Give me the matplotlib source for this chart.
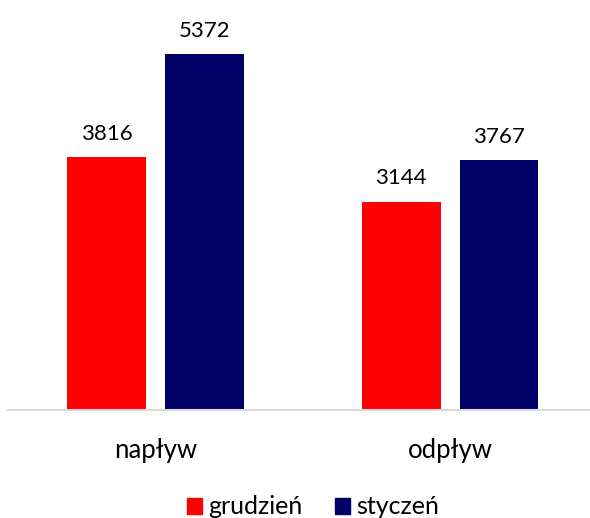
import numpy as np
import matplotlib.pyplot as plt
from matplotlib.patches import Patch

# data
categories = ['napływ', 'odpływ']
series_names = ['grudzień', 'styczeń']
grudzien = [3816, 3144]
styczen = [5372, 3767]

colors = ['#FF0000', '#000066']

plt.rcParams['font.family'] = ['Lato', 'DejaVu Sans']

fig = plt.figure(figsize=(5.9, 5.18), dpi=100)
ax = fig.add_axes([8 / 590, 1 - 410 / 518, 582 / 590, 410 / 518])

x = np.arange(len(categories))
width = 0.268
offset = 0.166

for vals, off, col in [(grudzien, -offset, colors[0]), (styczen, offset, colors[1])]:
    bars = ax.bar(x + off, vals, width, color=col)
    for b, v in zip(bars, vals):
        ax.text(b.get_x() + b.get_width() / 2, v + 200, str(v),
                ha='center', va='bottom', fontsize=16, color='#000000')

ax.set_xlim(-0.501, 1.475)
ax.set_ylim(0, 6184)

for s in ['top', 'right', 'left']:
    ax.spines[s].set_visible(False)
ax.spines['bottom'].set_color('#D9D9D9')
ax.spines['bottom'].set_linewidth(1.5)
ax.set_yticks([])
ax.set_xticks(x)
ax.set_xticklabels(categories, fontsize=18.5)
ax.tick_params(axis='x', length=0, pad=20)

handles = [Patch(color=c) for c in colors]
fig.legend(handles, series_names, loc='center', bbox_to_anchor=(0.53, 1 - 507 / 518),
           ncol=2, frameon=False, fontsize=18, handlelength=0.6, handleheight=0.6,
           handletextpad=0.25, columnspacing=1.3)

fig.savefig('out.png', dpi=100)
